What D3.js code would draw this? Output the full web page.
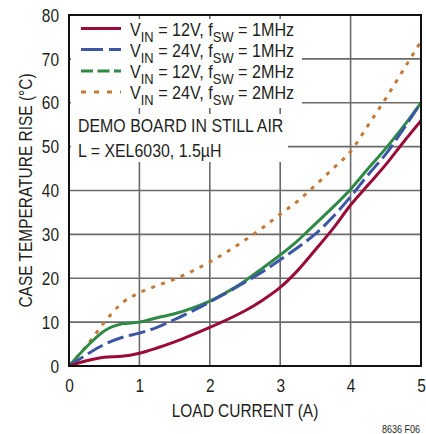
<!DOCTYPE html>
<html><head><meta charset="utf-8">
<script src="https://cdn.jsdelivr.net/npm/d3@7/dist/d3.min.js"></script>
<style>
html,body{margin:0;padding:0;background:#fff;}
svg text{font-family:"Liberation Sans",Arial,sans-serif;fill:#231f20;}
</style></head>
<body>
<svg id="c" width="426" height="434"></svg>
<script>
const load = [0,0.25,0.5,0.75,1,1.25,1.5,1.75,2,2.25,2.5,2.75,3,3.25,3.5,3.75,4,4.25,4.5,4.75,5];
const v12f1 = [0,1.2,2.0,2.2,2.9,4.1,5.5,7.1,8.8,10.6,12.6,15.0,17.9,21.8,26.5,31.3,36.7,41.3,45.9,51.0,55.9];
const v24f1 = [0,2.6,4.9,6.5,7.5,8.8,10.6,12.5,14.6,16.8,19.1,21.5,24.2,27.0,30.1,34.0,38.6,43.6,48.3,54.0,60.0];
const v12f2 = [0,4.4,8.0,9.6,10.0,11.0,11.9,13.2,14.8,16.9,19.4,22.3,25.3,28.6,32.4,36.2,40.3,45.0,49.6,54.6,60.0];
const v24f2 = [0,4.6,9.9,14.3,16.7,18.3,19.8,21.6,23.7,26.1,28.7,31.5,34.6,37.6,41.2,45.0,48.9,54.9,61.0,67.5,74.0];
const xTicks = [0,1,2,3,4,5];
const yTicks = [0,10,20,30,40,50,60,70,80];
const legendVin = ["12V","24V","12V","24V"];
const legendFsw = ["1MHz","1MHz","2MHz","2MHz"];
const noteLines = ["DEMO BOARD IN STILL AIR","L = XEL6030, 1.5µH"];

const colors = ["#9b0b38","#3c56a6","#2f8a45","#c67a36"];
const dashPlot = [null,"17,5.5",null,"4,6.5"];
const dashLegend = [null,"22,6","12,4.5","5,8"];
const seriesVals = [v12f1,v24f1,v12f2,v24f2];
const SX = 0.86;

const svg = d3.select("#c");
const x = d3.scaleLinear().domain([0,5]).range([69,421]);
const y = d3.scaleLinear().domain([0,80]).range([366,15]);

function txt(px, py, str, size, anchor, extra){
  const t = svg.append("text")
    .attr("transform",`translate(${px},${py}) ${extra||""} scale(${SX},1)`)
    .attr("font-size",size).attr("text-anchor",anchor||"start");
  if (str!=null) t.text(str);
  return t;
}

// grid
const g = svg.append("g");
g.selectAll(".vg").data(xTicks.slice(1,-1)).join("line")
  .attr("x1",d=>x(d)).attr("x2",d=>x(d)).attr("y1",y(0)).attr("y2",y(80))
  .attr("stroke","#6a6a6a").attr("stroke-width",1.6);
g.selectAll(".hg").data(yTicks.slice(1,-1)).join("line")
  .attr("x1",x(0)).attr("x2",x(5)).attr("y1",d=>y(d)).attr("y2",d=>y(d))
  .attr("stroke","#6a6a6a").attr("stroke-width",1.6);

// legend background boxes
svg.append("rect").attr("x",71).attr("y",19).attr("width",231).attr("height",89).attr("fill","#fff");
svg.append("rect").attr("x",71).attr("y",114).attr("width",217).attr("height",48).attr("fill","#fff");

// clip
svg.append("clipPath").attr("id","clp").append("rect")
  .attr("x",x(0)).attr("y",y(80)).attr("width",x(5)-x(0)).attr("height",y(0)-y(80));

const line = d3.line().x((d,i)=>x(load[i])).y(d=>y(d)).curve(d3.curveMonotoneX);
const order = [3,2,1,0];
const pg = svg.append("g").attr("clip-path","url(#clp)");
order.forEach(k=>{
  pg.append("path").datum(seriesVals[k]).attr("d",line)
    .attr("fill","none").attr("stroke",colors[k]).attr("stroke-width",3)
    .attr("stroke-dasharray",dashPlot[k]);
});

// frame
svg.append("rect").attr("x",x(0)).attr("y",y(80)).attr("width",x(5)-x(0)).attr("height",y(0)-y(80))
  .attr("fill","none").attr("stroke","#111").attr("stroke-width",2);

// axes labels
const xa = svg.append("g").attr("transform",`translate(0,${y(0)})`)
  .call(d3.axisBottom(x).tickValues(xTicks).tickSize(0).tickPadding(0).tickFormat(d3.format("d")));
xa.select(".domain").remove();
xa.selectAll("text").attr("dy",null).attr("y",null)
  .attr("transform",`translate(0,26) scale(${SX},1)`)
  .attr("font-size",18).attr("font-family",'"Liberation Sans",Arial,sans-serif').attr("fill","#231f20");
const ya = svg.append("g").attr("transform",`translate(${x(0)},0)`)
  .call(d3.axisLeft(y).tickValues(yTicks).tickSize(0).tickPadding(10).tickFormat(d3.format("d")));
ya.select(".domain").remove();
ya.selectAll("text").attr("x",null).attr("dy","0.34em")
  .attr("transform",`translate(-10,0) scale(${SX},1)`)
  .attr("font-size",18).attr("font-family",'"Liberation Sans",Arial,sans-serif').attr("fill","#231f20");

txt((x(0)+x(5))/2, 417, "LOAD CURRENT (A)", 18, "middle");
txt(31.5, (y(0)+y(80))/2, "CASE TEMPERATURE RISE (°C)", 18, "middle", "rotate(-90)");
txt(420, 432.5, "8636 F06", 10.5, "end");

// legend
const rowsY = [28.5,49.5,71,92];
legendVin.forEach((vin,i)=>{
  svg.append("line").attr("x1",81).attr("x2",121).attr("y1",rowsY[i]).attr("y2",rowsY[i])
    .attr("stroke",colors[i]).attr("stroke-width",3).attr("stroke-dasharray",dashLegend[i]);
  const t = txt(130, rowsY[i]+7, null, 18.8, "start");
  t.append("tspan").text("V");
  t.append("tspan").attr("font-size",15).attr("dy",6).text("IN");
  t.append("tspan").attr("dy",-6).text(" = "+vin+", f");
  t.append("tspan").attr("font-size",15).attr("dy",6).text("SW");
  t.append("tspan").attr("dy",-6).text(" = "+legendFsw[i]);
});
noteLines.forEach((s,i)=>{
  txt(78, 132.3+i*24.4, s, 18.5, "start");
});
</script>
</body></html>
